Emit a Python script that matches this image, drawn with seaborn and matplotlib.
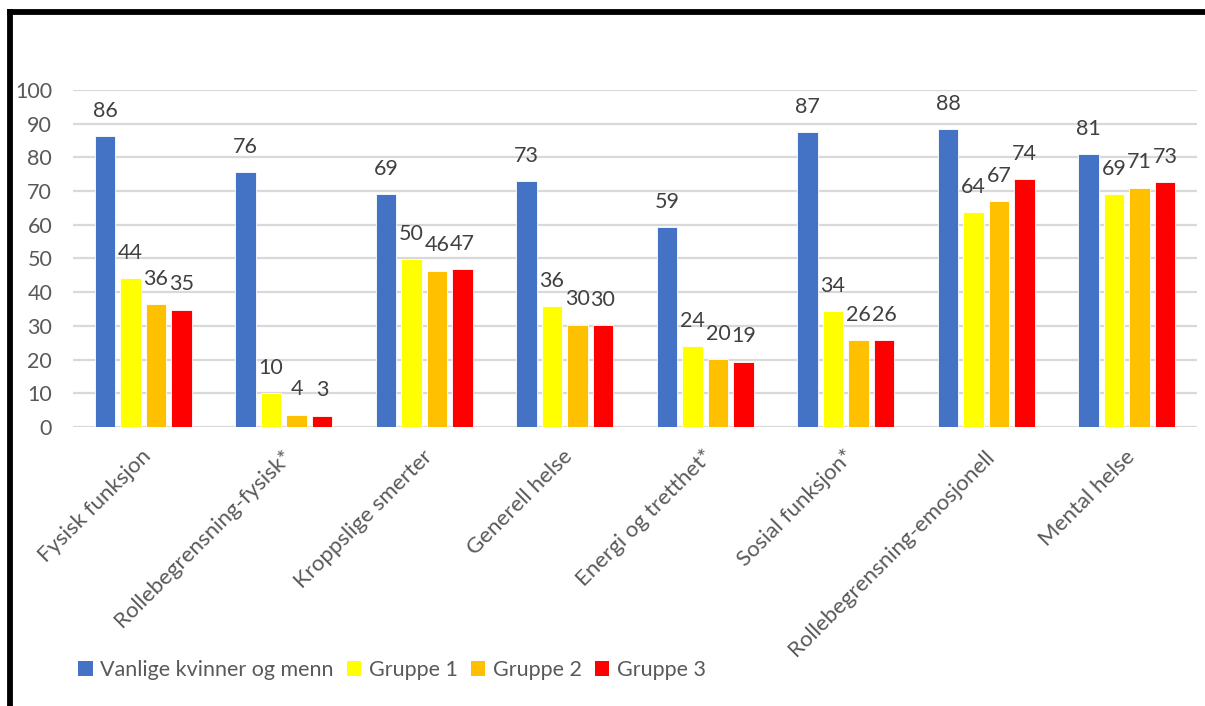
import matplotlib
matplotlib.use("Agg")
import matplotlib.pyplot as plt
import matplotlib.transforms as mtransforms
import seaborn as sns
import pandas as pd
from matplotlib.lines import Line2D
from matplotlib.patches import Patch

categories = ["Fysisk funksjon", "Rollebegrensning-fysisk*", "Kroppslige smerter",
              "Generell helse", "Energi og tretthet*", "Sosial funksjon*",
              "Rollebegrensning-emosjonell", "Mental helse"]
series_names = ["Vanlige kvinner og menn", "Gruppe 1", "Gruppe 2", "Gruppe 3"]
vanlige = [86.4, 75.7, 69.2, 73.0, 59.3, 87.4, 88.3, 80.9]
gruppe1 = [44.2, 10.0, 49.9, 35.9, 24.0, 34.3, 63.8, 69.1]
gruppe2 = [36.4, 3.7, 46.4, 30.4, 20.2, 25.8, 67.0, 71.0]
gruppe3 = [34.8, 3.4, 46.9, 30.2, 19.4, 25.8, 73.6, 72.6]
colors = ["#4472C4", "#FFFF00", "#FFC000", "#FF0000"]
yticks = list(range(0, 101, 10))

rows = []
for name, vals in zip(series_names, [vanlige, gruppe1, gruppe2, gruppe3]):
    for c, v in zip(categories, vals):
        rows.append({"kategori": c, "verdi": v, "gruppe": name})
df = pd.DataFrame(rows)

sns.set_theme(style="white")
plt.rcParams["font.family"] = ["Lato", "DejaVu Sans"]

fig = plt.figure(figsize=(12.05, 7.06), dpi=100)
ax = fig.add_axes([73/1205, 1 - 427/706, 1124/1205, 337/706])

sns.barplot(data=df, x="kategori", y="verdi", hue="gruppe", palette=colors,
            order=categories, hue_order=series_names, width=0.726, gap=0.2,
            errorbar=None, legend=False, ax=ax, saturation=1,
            edgecolor="white", linewidth=0.6)

for cont in ax.containers:
    ax.bar_label(cont, fmt="%.0f", padding=11, fontsize=15.5, color="#404040")

ax.set_ylim(0, 100)
ax.set_yticks(yticks)
ax.yaxis.grid(True, color="#d9d9d9", linewidth=1.6)
ax.set_axisbelow(True)
for s in ax.spines.values():
    s.set_visible(False)
ax.tick_params(axis="both", length=0, colors="#595959", labelsize=15.5)
ax.tick_params(axis="y", pad=15)
ax.set_xlabel("")
ax.set_ylabel("")
ax.set_xticks(range(len(categories)))
ax.set_xticklabels(categories, rotation=45, ha="right", va="center",
                   rotation_mode="anchor", color="#595959", fontsize=16)
ax.tick_params(axis="x", pad=19)
offset = mtransforms.ScaledTranslation(5/100, 0, fig.dpi_scale_trans)
for lbl in ax.get_xticklabels():
    lbl.set_transform(lbl.get_transform() + offset)

handles = [Patch(facecolor=c, edgecolor="none") for c in colors]
fig.legend(handles, series_names, loc="center left",
           bbox_to_anchor=(78/1205, 1 - 670/706), ncol=4, frameon=False,
           fontsize=15.5, labelcolor="#595959", handlelength=0.68,
           handleheight=0.68, handletextpad=0.35, columnspacing=0.6,
           borderaxespad=0, borderpad=0)

# outer black frame (top and left visible, others clipped)
fig.add_artist(Line2D([10/1205, 10/1205], [0, 1 - 12/706], transform=fig.transFigure,
                      color="black", linewidth=4.2, solid_capstyle="projecting"))
fig.add_artist(Line2D([10/1205, 1.0], [1 - 12/706, 1 - 12/706], transform=fig.transFigure,
                      color="black", linewidth=4.2, solid_capstyle="projecting"))

fig.savefig("out.png", dpi=100)
